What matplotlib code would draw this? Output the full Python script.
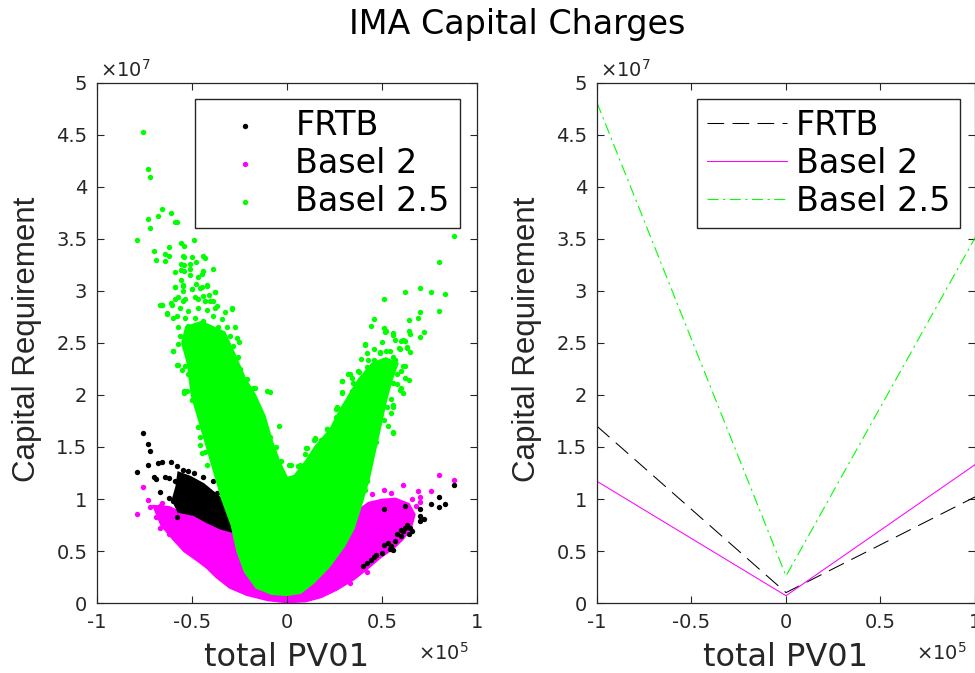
"""IMA capital charges: scatter of charges vs total PV01, plus the V-shaped fit."""

import matplotlib
matplotlib.use("Agg")
import matplotlib.pyplot as plt
from matplotlib.ticker import FuncFormatter, MultipleLocator

plt.rcParams['font.family'] = ['DejaVu Sans']
plt.rcParams['axes.unicode_minus'] = False

PV01_UNIT = 1e5
CAP_UNIT = 1e7

GREEN = '#00ff00'
MAGENTA = '#ff00ff'
BLACK = '#000000'
AXCOL = '#262626'

# ---- left panel: scatter (x in 1e5, y in 1e7) ----
# dense cores of each cloud, traced as outlines
green_core_x = [-0.45, -0.53, -0.55, -0.52, -0.50, -0.46, -0.42, -0.38, -0.34, -0.29,
                -0.26, -0.22, -0.16, -0.08, 0.00, 0.07, 0.14, 0.22, 0.30, 0.35,
                0.39, 0.43, 0.46, 0.49, 0.52, 0.55, 0.58, 0.52, 0.45, 0.38,
                0.33, 0.28, 0.23, 0.15, 0.10, 0.04, 0.00, -0.04, -0.08, -0.12,
                -0.17, -0.22, -0.28, -0.33]
green_core_y = [2.70, 2.65, 2.50, 2.30, 2.00, 1.75, 1.50, 1.25, 1.00, 0.75,
                0.50, 0.30, 0.15, 0.09, 0.08, 0.10, 0.20, 0.35, 0.55, 0.72,
                0.95, 1.20, 1.45, 1.70, 1.95, 2.15, 2.30, 2.35, 2.30, 2.15,
                2.00, 1.85, 1.67, 1.50, 1.36, 1.22, 1.20, 1.35, 1.55, 1.80,
                2.00, 2.15, 2.40, 2.60]

magenta_core_x = [-0.70, -0.66, -0.60, -0.54, -0.47, -0.42, -0.37, -0.30, -0.21, -0.10,
                  0.00, 0.10, 0.18, 0.26, 0.35, 0.42, 0.49, 0.56, 0.61, 0.65,
                  0.67, 0.64, 0.57, 0.50, 0.43, 0.37, 0.30, 0.00, -0.27, -0.35,
                  -0.45, -0.55, -0.62]
magenta_core_y = [0.93, 0.75, 0.62, 0.50, 0.41, 0.34, 0.25, 0.15, 0.08, 0.03,
                  0.01, 0.02, 0.06, 0.13, 0.23, 0.33, 0.44, 0.53, 0.62, 0.72,
                  0.85, 0.95, 1.00, 0.99, 0.96, 0.88, 0.70, 0.30, 0.68, 0.72,
                  0.80, 0.86, 0.92]

frtb_core_x = [-0.57, -0.51, -0.44, -0.38, -0.33, -0.29, -0.26, -0.27, -0.35, -0.42,
               -0.49, -0.57, -0.60, -0.58]
frtb_core_y = [1.25, 1.21, 1.14, 1.05, 0.97, 0.87, 0.78, 0.68, 0.72, 0.78,
               0.85, 0.88, 0.99, 1.12]

# individual points outside / along the dense cores
green_x = [
    # left arm, sparse top
    -0.76, -0.73, -0.72, -0.66, -0.61, -0.68, -0.73, -0.58, -0.59, -0.72,
    -0.79, -0.49, -0.56, -0.54, -0.62, -0.70, -0.64, -0.62, -0.69, -0.64,
    -0.55, -0.54, -0.50, -0.44, -0.43, -0.48, -0.51, -0.56, -0.54, -0.51,
    -0.59, -0.56, -0.54, -0.44, -0.39, -0.45, -0.51, -0.47, -0.56, -0.59,
    -0.55, -0.48, -0.42, -0.45, -0.55, -0.50, -0.38, -0.41, -0.59, -0.55,
    -0.47, -0.43, -0.39, -0.66, -0.61, -0.29, -0.38, -0.67, -0.63,
    # left arm, medium band 2.0-3.05
    -0.589, -0.545, -0.501, -0.458, -0.422, -0.379, -0.572, -0.536, -0.484, -0.440,
    -0.405, -0.659, -0.607, -0.563, -0.519, -0.466, -0.422, -0.370, -0.326, -0.291,
    -0.633, -0.580, -0.536, -0.484, -0.440, -0.387, -0.343, -0.598, -0.572, -0.519,
    -0.475, -0.422, -0.361, -0.317, -0.273, -0.563, -0.510, -0.458, -0.405, -0.352,
    -0.300, -0.265, -0.572, -0.536, -0.493, -0.440, -0.387, -0.335, -0.282, -0.598,
    -0.501, -0.449, -0.396, -0.343, -0.291, -0.256, -0.572, -0.536, -0.493, -0.440,
    -0.387, -0.335, -0.291, -0.247, -0.554, -0.519, -0.475, -0.422, -0.370, -0.317,
    -0.265, -0.212, -0.493, -0.440, -0.387, -0.335, -0.282, -0.230, -0.177, -0.107,
    -0.528, -0.458, -0.317,
    # left arm edges below 2.0
    -0.60, -0.58, -0.54, -0.54, -0.50, -0.47, -0.46, -0.45, -0.42, -0.46,
    -0.43, -0.25, -0.25, -0.17, -0.09, -0.04, -0.09, -0.06, -0.03,
    # inside the V notch
    0.02, -0.01, 0.01, 0.06, 0.10, 0.11, 0.15, 0.15, 0.18, 0.21,
    0.10, 0.00, 0.04, 0.02, 0.07, 0.14, 0.26, 0.26, 0.05,
    # right arm outer edge
    0.56, 0.55, 0.56, 0.51, 0.47, 0.44, 0.42, 0.41,
    # right arm, sparse top
    0.88, 0.80, 0.70, 0.62, 0.76, 0.83, 0.51, 0.70, 0.80, 0.46,
    0.64, 0.69, 0.44, 0.51, 0.52, 0.56, 0.64, 0.65, 0.72, 0.70,
    0.60, 0.57, 0.62, 0.50, 0.41, 0.46, 0.52, 0.59, 0.63, 0.65,
    0.42, 0.39, 0.49, 0.56, 0.57, 0.46, 0.42, 0.52, 0.56, 0.62,
    0.60, 0.33, 0.38, 0.42, 0.29, 0.34, 0.29, 0.34, 0.62, 0.64,
    0.60, 0.61, 0.58,
    # right arm, medium band 1.4-2.6
    0.516, 0.560, 0.612, 0.410, 0.490, 0.542, 0.595, 0.630, 0.428, 0.463,
    0.507, 0.568, 0.612, 0.375, 0.419, 0.472, 0.525, 0.577, 0.323, 0.288,
    0.349, 0.402, 0.454, 0.507, 0.560, 0.595, 0.288, 0.340, 0.384, 0.437,
    0.490, 0.550, 0.261, 0.314, 0.367, 0.419, 0.472, 0.525, 0.560, 0.279,
    0.332, 0.384, 0.437, 0.490, 0.533, 0.209, 0.244, 0.296, 0.349, 0.402,
    0.454, 0.560, 0.147, 0.200, 0.261, 0.104, 0.147, 0.200, 0.121, 0.095,
]
green_y = [
    4.53, 4.17, 4.10, 3.79, 3.75, 3.72, 3.69, 3.66, 3.66, 3.61,
    3.49, 3.49, 3.46, 3.43, 3.42, 3.38, 3.36, 3.34, 3.30, 3.29,
    3.34, 3.33, 3.33, 3.34, 3.32, 3.28, 3.26, 3.26, 3.25, 3.21,
    3.18, 3.20, 3.19, 3.19, 3.21, 3.16, 3.15, 3.13, 3.11, 3.04,
    3.06, 3.07, 3.06, 3.04, 3.00, 3.02, 2.99, 2.96, 2.92, 2.90,
    2.92, 2.90, 2.90, 2.87, 2.88, 2.84, 2.84, 2.87, 2.79,
    3.04, 3.05, 3.02, 3.03, 3.05, 2.99, 2.94, 2.92, 2.94, 2.95,
    2.90, 2.87, 2.87, 2.84, 2.81, 2.84, 2.82, 2.86, 2.80, 2.83,
    2.78, 2.76, 2.74, 2.74, 2.71, 2.76, 2.73, 2.74, 2.65, 2.66,
    2.63, 2.65, 2.65, 2.65, 2.65, 2.57, 2.58, 2.55, 2.57, 2.55,
    2.57, 2.55, 2.49, 2.45, 2.49, 2.47, 2.49, 2.45, 2.47, 2.42,
    2.41, 2.39, 2.39, 2.37, 2.39, 2.37, 2.29, 2.28, 2.31, 2.29,
    2.28, 2.29, 2.29, 2.25, 2.24, 2.20, 2.21, 2.20, 2.18, 2.20,
    2.17, 2.15, 2.12, 2.10, 2.10, 2.10, 2.08, 2.10, 2.07, 2.04,
    2.04, 2.04, 2.04,
    2.42, 2.29, 2.04, 2.02, 1.95, 1.69, 1.60, 1.44, 1.33, 1.52,
    1.45, 2.51, 2.17, 2.07, 2.03, 1.70, 1.60, 1.50, 1.37,
    1.33, 1.16, 1.33, 1.32, 1.30, 1.37, 1.39, 1.58, 1.57, 1.67,
    1.49, 1.18, 1.18, 1.01, 1.33, 1.57, 1.79, 1.87, 1.17,
    1.64, 1.83, 1.90, 1.76, 1.55, 1.44, 1.17, 1.09,
    3.53, 3.28, 3.03, 2.99, 2.99, 2.97, 2.92, 2.80, 2.81, 2.73,
    2.72, 2.74, 2.66, 2.64, 2.62, 2.60, 2.62, 2.59, 2.61, 2.56,
    2.52, 2.53, 2.52, 2.51, 2.48, 2.44, 2.42, 2.45, 2.46, 2.41,
    2.40, 2.35, 2.40, 2.37, 2.34, 2.34, 2.27, 2.32, 2.28, 2.28,
    2.23, 2.20, 2.22, 2.20, 2.13, 2.16, 2.02, 2.03, 2.16, 2.14,
    2.07, 2.02, 2.11,
    2.61, 2.58, 2.53, 2.49, 2.41, 2.42, 2.44, 2.45, 2.34, 2.31,
    2.33, 2.34, 2.28, 2.23, 2.21, 2.23, 2.21, 2.20, 2.20, 2.13,
    2.12, 2.15, 2.12, 2.10, 2.12, 2.05, 2.03, 2.04, 2.00, 2.02,
    1.99, 1.96, 1.88, 1.91, 1.89, 1.91, 1.86, 1.88, 1.88, 1.78,
    1.80, 1.76, 1.78, 1.76, 1.70, 1.67, 1.68, 1.67, 1.65, 1.67,
    1.65, 1.63, 1.59, 1.57, 1.57, 1.49, 1.47, 1.46, 1.41, 1.43,
]

magenta_x = [-0.79, -0.76, -0.73, -0.72, -0.67, -0.66, -0.69, -0.63, -0.67, -0.62,
             0.80, 0.88, 0.76, 0.61, 0.51, 0.42, 0.33, 0.70, 0.70, 0.45,
             0.55, 0.66, 0.68, 0.69]
magenta_y = [0.86, 1.12, 0.99, 0.92, 0.93, 0.96, 0.83, 0.83, 0.72, 0.66,
             1.23, 1.18, 1.08, 1.13, 1.09, 0.30, 0.19, 1.02, 0.97, 1.05,
             1.06, 1.00, 0.93, 1.08]

frtb_x = [-0.76, -0.73, -0.72, -0.79, -0.73, -0.68, -0.66, -0.61, -0.58, -0.70,
          -0.69, -0.64, -0.62, -0.67, -0.62, -0.59, -0.49, -0.44, -0.39, -0.37,
          -0.60, -0.58, -0.55, -0.52, 0.88, 0.80, 0.83, 0.80, 0.76, 0.70,
          0.70, 0.72, 0.70, 0.65, 0.64, 0.61, 0.60, 0.56, 0.53, 0.51,
          0.47, 0.44, 0.46, 0.62, 0.51, 0.62, 0.63, 0.60, 0.66, 0.55,
          0.54, 0.57, 0.50, 0.42, 0.40, 0.58]
frtb_y = [1.63, 1.53, 1.46, 1.26, 1.33, 1.35, 1.36, 1.36, 1.32, 1.21,
          1.19, 1.21, 1.20, 1.07, 1.01, 1.17, 1.25, 1.21, 1.17, 1.06,
          0.98, 0.83, 1.28, 1.27, 1.13, 1.02, 0.95, 0.92, 0.95, 0.90,
          0.84, 0.81, 0.79, 0.72, 0.66, 0.69, 0.64, 0.51, 0.58, 0.56,
          0.46, 0.41, 0.44, 0.93, 0.90, 0.72, 0.75, 0.70, 0.69, 0.55,
          0.52, 0.60, 0.48, 0.38, 0.36, 0.66]

# ---- right panel: V-shaped lines through PV01 = -1, 0, 1 (x1e5) ----
line_pv01 = [-1.0, 0.0, 1.0]
line_frtb = [1.70, 0.10, 1.02]
line_basel2 = [1.17, 0.07, 1.33]
line_basel25 = [4.81, 0.26, 3.51]

series_labels = ['FRTB', 'Basel 2', 'Basel 2.5']


def scale(vals, unit):
    return [v * unit for v in vals]


def style_axes(ax):
    ax.set_xlim(-1 * PV01_UNIT, 1 * PV01_UNIT)
    ax.set_ylim(0, 5 * CAP_UNIT)
    ax.xaxis.set_major_locator(MultipleLocator(0.5 * PV01_UNIT))
    ax.yaxis.set_major_locator(MultipleLocator(0.5 * CAP_UNIT))
    ax.xaxis.set_major_formatter(FuncFormatter(lambda v, p: f'{v / PV01_UNIT:g}'))
    ax.yaxis.set_major_formatter(FuncFormatter(lambda v, p: f'{v / CAP_UNIT:g}'))
    ax.tick_params(direction='in', top=True, right=True, length=5, width=0.8,
                   colors=AXCOL, labelsize=14, pad=7)
    for sp in ax.spines.values():
        sp.set_color(AXCOL)
        sp.set_linewidth(0.9)
    ax.text(0.008, 1.005, '×10$^{7}$', transform=ax.transAxes, fontsize=14,
            color=AXCOL, ha='left', va='bottom')
    ax.text(0.845, -0.096, '×10$^{5}$', transform=ax.transAxes, fontsize=14,
            color=AXCOL, ha='left', va='center')
    ax.set_xlabel('total PV01', fontsize=23, color=AXCOL)
    ax.xaxis.label.set_va('center')
    ax.xaxis.set_label_coords(0.5, -0.104)
    ax.set_ylabel('Capital Requirement', fontsize=22.5, color=AXCOL,
                  family=['Liberation Sans Narrow', 'Liberation Sans', 'DejaVu Sans'])
    ax.yaxis.label.set_va('center')
    ax.yaxis.set_label_coords(-0.184, 0.507)


fig = plt.figure(figsize=(9.75, 6.73), dpi=100)
ax1 = fig.add_axes([0.0995, 0.104, 0.3897, 0.7727])
ax2 = fig.add_axes([0.6123, 0.104, 0.3877, 0.7727])

# left: clouds
dot = 15
ax1.fill(scale(magenta_core_x, PV01_UNIT), scale(magenta_core_y, CAP_UNIT),
         color=MAGENTA, lw=2, zorder=1)
h_b2 = ax1.scatter(scale(magenta_x, PV01_UNIT), scale(magenta_y, CAP_UNIT),
                   s=dot, c=MAGENTA, linewidths=0, zorder=1.1)
ax1.fill(scale(frtb_core_x, PV01_UNIT), scale(frtb_core_y, CAP_UNIT),
         color=BLACK, lw=2, zorder=2)
h_frtb = ax1.scatter(scale(frtb_x, PV01_UNIT), scale(frtb_y, CAP_UNIT),
                     s=dot, c=BLACK, linewidths=0, zorder=2.1)
ax1.fill(scale(green_core_x, PV01_UNIT), scale(green_core_y, CAP_UNIT),
         color=GREEN, lw=2, zorder=3)
h_b25 = ax1.scatter(scale(green_x, PV01_UNIT), scale(green_y, CAP_UNIT),
                    s=dot, c=GREEN, linewidths=0, zorder=3.1)

leg1 = ax1.legend([h_frtb, h_b2, h_b25], series_labels, loc='upper right',
                  bbox_to_anchor=(0.955, 0.969), fontsize=24, scatterpoints=1,
                  handlelength=2.4, handletextpad=0.3, borderpad=0.3,
                  labelspacing=0.15, fancybox=False, framealpha=1,
                  edgecolor=AXCOL, borderaxespad=0)
leg1.get_frame().set_linewidth(1.0)
leg1.set_zorder(5)
style_axes(ax1)

# right: lines
ax2.plot(scale(line_pv01, PV01_UNIT), scale(line_frtb, CAP_UNIT), color=BLACK,
         lw=0.75, linestyle=(0, (16, 8)), label=series_labels[0])
ax2.plot(scale(line_pv01, PV01_UNIT), scale(line_basel2, CAP_UNIT), color=MAGENTA,
         lw=0.75, label=series_labels[1])
ax2.plot(scale(line_pv01, PV01_UNIT), scale(line_basel25, CAP_UNIT), color=GREEN,
         lw=0.8, linestyle=(0, (10, 4, 2, 4)), label=series_labels[2])
leg2 = ax2.legend(loc='upper right', bbox_to_anchor=(0.96, 0.969), fontsize=24,
                  handlelength=2.4, handletextpad=0.25, borderpad=0.3,
                  labelspacing=0.15, fancybox=False, framealpha=1,
                  edgecolor=AXCOL, borderaxespad=0)
leg2.get_frame().set_linewidth(1.0)
style_axes(ax2)

fig.text(0.530, 0.963, 'IMA Capital Charges', fontsize=24, color=BLACK,
         ha='center', va='center')

fig.savefig('out.png', dpi=100)
